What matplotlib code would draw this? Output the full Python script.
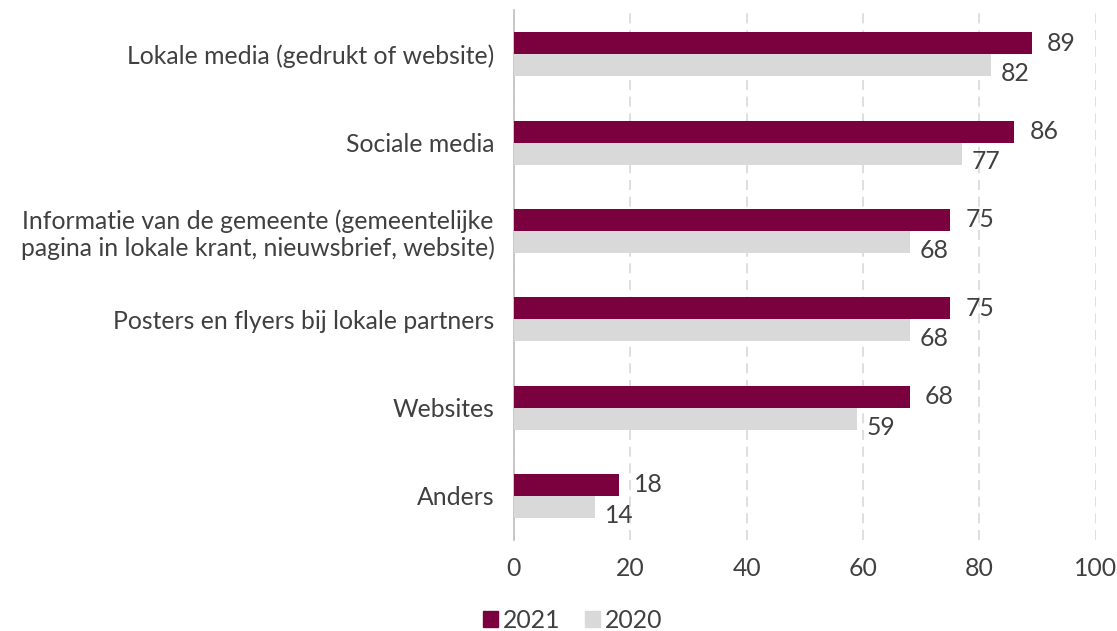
import matplotlib
matplotlib.use("Agg")
import matplotlib.pyplot as plt
from matplotlib.patches import Patch
import numpy as np

categories = [
    "Lokale media (gedrukt of website)",
    "Sociale media",
    "Informatie van de gemeente (gemeentelijke\npagina in lokale krant, nieuwsbrief, website)",
    "Posters en flyers bij lokale partners",
    "Websites",
    "Anders",
]
values_2021 = [89, 86, 75, 75, 68, 18]
values_2020 = [82, 77, 68, 68, 59, 14]
series_names = ["2021", "2020"]
xticks = [0, 20, 40, 60, 80, 100]

c2021 = "#7B003E"
c2020 = "#D9D9D9"
txt = "#404040"

plt.rcParams['font.family'] = ['Lato', 'DejaVu Sans']

fig = plt.figure(figsize=(11.17, 6.31), dpi=100)
ax = fig.add_axes([0.460, 0.144, 0.521, 0.840])

y = np.arange(len(categories))
h = 0.25
ax.barh(y - h/2, values_2021, height=h, color=c2021, label=series_names[0], zorder=3)
ax.barh(y + h/2, values_2020, height=h, color=c2020, label=series_names[1], zorder=3)

fs = 17.8
for yi, v in zip(y, values_2021):
    ax.annotate(str(v), (v, yi - h/2), xytext=(11, 0), textcoords="offset points",
                va="center", ha="left", fontsize=fs, color=txt)
for yi, v in zip(y, values_2020):
    ax.annotate(str(v), (v, yi + h/2), xytext=(7, -6), textcoords="offset points",
                va="center", ha="left", fontsize=fs, color=txt)

ax.set_ylim(len(categories) - 0.5, -0.5)
ax.set_xlim(0, 100)
ax.set_yticks(y)
ax.set_yticklabels(categories, fontsize=fs, color=txt, multialignment="center")
ax.set_xticks(xticks)
ax.set_xticklabels([str(t) for t in xticks], fontsize=fs, color=txt)
ax.tick_params(axis='both', length=0)
ax.tick_params(axis='x', pad=12)
ax.tick_params(axis='y', pad=14)

for s in ["top", "right", "bottom"]:
    ax.spines[s].set_visible(False)
ax.spines["left"].set_color("#BFBFBF")
ax.spines["left"].set_linewidth(1.2)

ax.xaxis.grid(True, linestyle=(0, (6, 4)), color="#D9D9D9", linewidth=1.2, zorder=0)
ax.set_axisbelow(True)

handles = [Patch(color=c2021), Patch(color=c2020)]
fig.legend(handles, series_names, loc="center", bbox_to_anchor=(0.513, 0.017),
           ncol=2, frameon=False, fontsize=fs, handlelength=0.6, handleheight=0.6,
           handletextpad=0.2, columnspacing=1.0, labelcolor=txt)

fig.savefig("out.png", dpi=100)
